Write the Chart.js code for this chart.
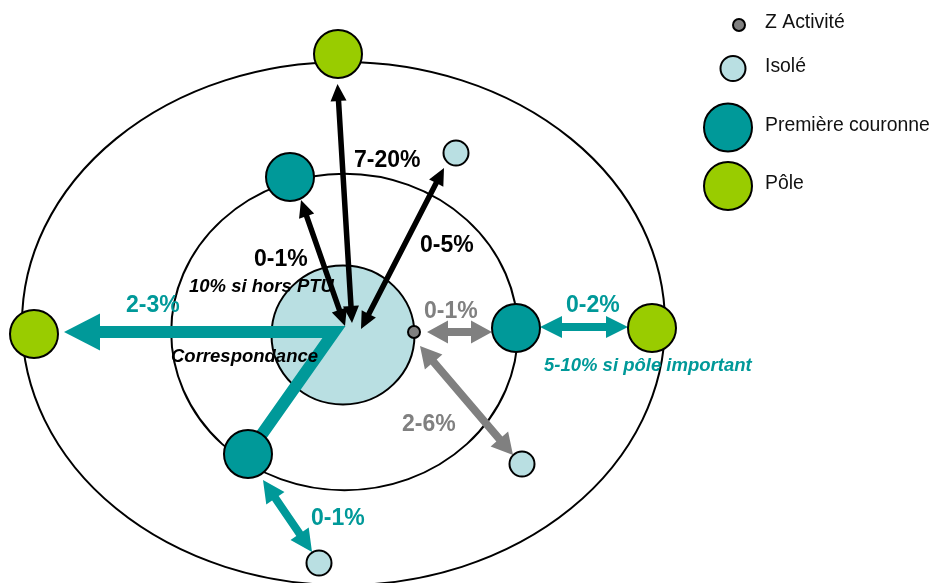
<!DOCTYPE html>
<html>
<head>
<meta charset="utf-8">
<script src="https://cdn.jsdelivr.net/npm/chart.js@4.4.0/dist/chart.umd.min.js"></script>
<style>
    body { margin: 0; background: #fff; }
    #wrap { width: 935px; height: 583px; }
</style>
</head>
<body>
<div id="wrap"><canvas id="diagram" width="935" height="583"></canvas></div>
<script>
// Places on the diagram (x to the right, y downwards)
const nodeTypes = ['Z Activité', 'Isolé', 'Première couronne', 'Pôle'];
const zoneX = [414];
const zoneY = [332];
const isoleX = [456, 522, 319];
const isoleY = [153, 464, 563];
const couronneX = [290, 516, 248];
const couronneY = [177, 328, 454];
const poleX = [338, 34, 652];
const poleY = [54, 334, 328];

// Rings: centre, inner ring first
const ringCx = [343, 344.5, 343.5];
const ringCy = [335, 332, 323.6];
const ringRx = [71.5, 173.3, 321.5];
const ringRy = [69.5, 158.2, 261.6];

// Flows (double arrows): start point, end point, share
const flowX0 = [352, 345, 361, 427, 420, 540, 263];
const flowY0 = [323, 326, 329, 332, 346, 327, 480];
const flowX1 = [337.5, 301, 444, 492, 513, 628, 312];
const flowY1 = [84, 200, 168, 332, 455, 327, 552];
const flowShare = ['7-20%', '0-1%', '0-5%', '0-1%', '2-6%', '0-2%', '0-1%'];
const flowKind = ['centre', 'centre', 'centre', 'zone', 'zone', 'pole', 'pole'];

// "Correspondance" route to the far pole
const corrX = [248, 334, 64];
const corrY = [454, 332, 332];
const corrShare = '2-3%';

// Extra notes
const notes = ['10% si hors PTU', 'Correspondance', '5-10% si pôle important'];

const TEAL = '#009999';
const GREY = '#808080';
const GREEN = '#99CC00';
const LIGHT = '#B9DFE2';
const FONT = "'Liberation Sans', Arial, sans-serif";

const arrowStyle = {
    centre: { color: '#000000', shaft: 5.5, head: 17, width: 16 },
    zone: { color: GREY, shaft: 8, head: 21, width: 23 },
    pole: { color: TEAL, shaft: 8, head: 22, width: 22 }
};

// label layout: left x and baseline for each share, then each note
const shareLayout = [[354, 167], [254, 266], [420, 252], [424, 318], [402, 431], [566, 312], [311, 525]];
const corrLayout = [126, 312];
const noteLayout = [[189, 292, '#000'], [171, 362, '#000'], [544, 371, TEAL]];

const legendLayout = [[739, 25, 6], [733, 68.5, 12.5], [728, 127.5, 24], [728, 186, 24]];
const nodeColors = [GREY, LIGHT, TEAL, GREEN];
const nodeRadius = [6, 12.5, 24, 24];

function toPoints(xs, ys) {
    return xs.map((x, i) => ({ x: x, y: ys[i] }));
}

function drawArrow(c, x0, y0, x1, y1, st) {
    const dx = x1 - x0, dy = y1 - y0;
    const len = Math.hypot(dx, dy);
    const ux = dx / len, uy = dy / len;
    const nx = -uy, ny = ux;
    const h = st.shaft / 2, H = st.width / 2, L = st.head;
    const bx0 = x0 + ux * L, by0 = y0 + uy * L;
    const bx1 = x1 - ux * L, by1 = y1 - uy * L;
    c.beginPath();
    c.moveTo(x0, y0);
    c.lineTo(bx0 + nx * H, by0 + ny * H);
    c.lineTo(bx0 + nx * h, by0 + ny * h);
    c.lineTo(bx1 + nx * h, by1 + ny * h);
    c.lineTo(bx1 + nx * H, by1 + ny * H);
    c.lineTo(x1, y1);
    c.lineTo(bx1 - nx * H, by1 - ny * H);
    c.lineTo(bx1 - nx * h, by1 - ny * h);
    c.lineTo(bx0 - nx * h, by0 - ny * h);
    c.lineTo(bx0 - nx * H, by0 - ny * H);
    c.closePath();
    c.fillStyle = st.color;
    c.fill();
}

// rings and arrows go under the places
const backgroundPlugin = {
    id: 'background',
    beforeDatasetsDraw(chart) {
        const c = chart.ctx;
        const sx = chart.scales.x, sy = chart.scales.y;
        const kx = sx.getPixelForValue(1) - sx.getPixelForValue(0);
        const ky = sy.getPixelForValue(1) - sy.getPixelForValue(0);
        c.save();
        for (let i = ringCx.length - 1; i >= 0; i--) {
            c.beginPath();
            c.ellipse(sx.getPixelForValue(ringCx[i]), sy.getPixelForValue(ringCy[i]),
                ringRx[i] * Math.abs(kx), ringRy[i] * Math.abs(ky), 0, 0, Math.PI * 2);
            if (i === 0) {
                c.fillStyle = LIGHT;
                c.fill();
            }
            c.lineWidth = 2;
            c.strokeStyle = '#000';
            c.stroke();
        }

        // correspondance route
        const px = corrX.map(v => sx.getPixelForValue(v));
        const py = corrY.map(v => sy.getPixelForValue(v));
        const last = px.length - 1;
        const headLen = 36, headW = 37;
        const ux = Math.sign(px[last] - px[last - 1]);
        c.beginPath();
        c.moveTo(px[0], py[0]);
        for (let i = 1; i < last; i++) c.lineTo(px[i], py[i]);
        c.lineTo(px[last] - ux * headLen, py[last]);
        c.lineWidth = 12;
        c.lineJoin = 'miter';
        c.strokeStyle = TEAL;
        c.stroke();
        c.beginPath();
        c.moveTo(px[last], py[last]);
        c.lineTo(px[last] - ux * headLen, py[last] - headW / 2);
        c.lineTo(px[last] - ux * headLen, py[last] + headW / 2);
        c.closePath();
        c.fillStyle = TEAL;
        c.fill();

        flowX0.forEach((x, i) => {
            drawArrow(c, sx.getPixelForValue(x), sy.getPixelForValue(flowY0[i]),
                sx.getPixelForValue(flowX1[i]), sy.getPixelForValue(flowY1[i]),
                arrowStyle[flowKind[i]]);
        });
        c.restore();
    }
};

// percentages, notes and the key on top
const labelsPlugin = {
    id: 'labels',
    afterDatasetsDraw(chart) {
        const c = chart.ctx;
        c.save();
        c.textAlign = 'left';
        c.textBaseline = 'alphabetic';

        c.font = 'bold 23px ' + FONT;
        flowShare.forEach((t, i) => {
            c.fillStyle = arrowStyle[flowKind[i]].color;
            c.fillText(t, shareLayout[i][0], shareLayout[i][1]);
        });
        c.fillStyle = TEAL;
        c.fillText(corrShare, corrLayout[0], corrLayout[1]);

        c.font = 'italic bold 18.5px ' + FONT;
        notes.forEach((t, i) => {
            c.fillStyle = noteLayout[i][2];
            c.fillText(t, noteLayout[i][0], noteLayout[i][1]);
        });

        // key
        c.font = '19.4px ' + FONT;
        c.textBaseline = 'middle';
        nodeTypes.forEach((t, i) => {
            const [x, y, r] = legendLayout[i];
            c.beginPath();
            c.arc(x, y, r, 0, Math.PI * 2);
            c.fillStyle = nodeColors[i];
            c.fill();
            c.lineWidth = 2;
            c.strokeStyle = '#000';
            c.stroke();
            c.fillStyle = '#111';
            c.fillText(t, 765, y - 2);
        });
        c.restore();
    }
};

const placeData = [toPoints(zoneX, zoneY), toPoints(isoleX, isoleY),
    toPoints(couronneX, couronneY), toPoints(poleX, poleY)];

const ctx = document.getElementById('diagram').getContext('2d');
new Chart(ctx, {
    type: 'scatter',
    data: {
        datasets: nodeTypes.map((t, i) => ({
            label: t,
            data: placeData[i],
            pointRadius: nodeRadius[i],
            pointHoverRadius: nodeRadius[i],
            backgroundColor: nodeColors[i],
            borderColor: '#000',
            borderWidth: 2,
            clip: false
        }))
    },
    options: {
        responsive: false,
        animation: false,
        layout: { padding: 0, autoPadding: false },
        scales: {
            x: { type: 'linear', min: 0, max: 935, display: false },
            y: { type: 'linear', min: 0, max: 583, reverse: true, display: false }
        },
        plugins: {
            legend: { display: false },
            tooltip: { enabled: false }
        }
    },
    plugins: [backgroundPlugin, labelsPlugin]
});
</script>
</body>
</html>
